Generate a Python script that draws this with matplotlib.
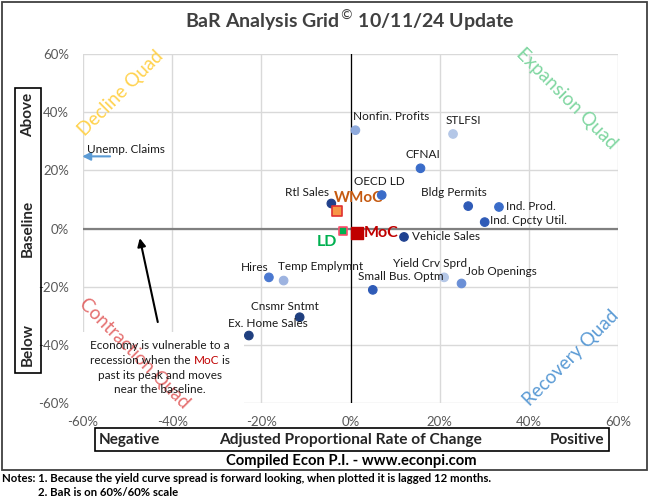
import matplotlib
matplotlib.use("Agg")
import matplotlib.pyplot as plt
from matplotlib.patches import Rectangle

plt.rcParams['font.family'] = ['Lato', 'DejaVu Sans']

# ---- data (percent) ----
names = ["Nonfin. Profits", "STLFSI", "CFNAI", "OECD LD", "Bldg Permits", "Ind. Prod.",
         "Ind. Cpcty Util.", "Vehicle Sales", "Yield Crv Sprd", "Job Openings",
         "Small Bus. Optm", "Rtl Sales", "Hires", "Temp Emplymnt", "Cnsmr Sntmt",
         "Ex. Home Sales"]
xs = [1.1, 23.0, 15.7, 7.0, 26.4, 33.3, 30.1, 12.0, 21.0, 24.9, 5.0, -4.3, -18.3, -15.0, -11.4, -22.8]
ys = [33.8, 32.5, 20.7, 11.5, 7.7, 7.4, 2.2, -2.9, -16.8, -18.9, -21.1, 8.6, -16.8, -17.9, -30.5, -36.8]
colors = ["#8faadc", "#b4c7e7", "#3a6cc9", "#3a6cc9", "#2f5bb7", "#3a6cc9", "#2f5bb7", "#1f4190",
          "#b4c7e7", "#6a8fd6", "#2f5bb7", "#203f8a", "#4a78d0", "#9db3e0", "#1f3f7f", "#1f3f7f"]
# label offsets in points (dx, dy) and horizontal alignment
label_pos = [(-2, 6, 'left'), (-5, 6, 'left'), (2, 6, 'center'), (-20, 6, 'left'),
             (-34, 6, 'left'), (5, 0, 'left'), (4, 1, 'left'), (6, 0, 'left'),
             (-37, 6, 'left'), (3, 5, 'left'), (-11, 6, 'left'), (-33, 4, 'left'),
             (-20, 3, 'left'), (-4, 6, 'left'), (-35, 4, 'left'), (-15, 5, 'left')]

summary_names = ["MoC", "WMoC", "LD"]
summary_x = [1.5, -3.0, -1.7]
summary_y = [-1.5, 6.0, -0.9]

unemp_y = 24.8
xticks = [-60, -40, -20, 0, 20, 40, 60]
yticks = [-60, -40, -20, 0, 20, 40, 60]

W, H = 650, 501
fig = plt.figure(figsize=(6.5, 5.01), dpi=100)

def fx(px):
    return px / W

def fy(py):
    return 1 - py / H

ax = fig.add_axes([fx(83), fy(403), fx(618) - fx(83), fy(54) - fy(403)])
ax.set_xlim(-60, 60)
ax.set_ylim(-60, 60)
ax.set_xticks(xticks)
ax.set_yticks(yticks)
ax.set_xticklabels([f"{t}%" for t in xticks])
ax.set_yticklabels([f"{t}%" for t in yticks])
ax.tick_params(length=0, labelsize=9.5, colors="#595959")
ax.tick_params(axis='x', pad=9)
ax.tick_params(axis='y', pad=10)
for s in ax.spines.values():
    s.set_visible(False)
ax.grid(True, color="#d9d9d9", lw=1)
ax.set_axisbelow(True)
ax.axhline(0, color="#808080", lw=1.6, zorder=1.5)
ax.axvline(0, color="#000000", lw=0.9, zorder=1.5)

# points
ax.scatter(xs, ys, s=38, c=colors, edgecolors=colors, linewidths=0.8, zorder=3)
for n, x, y, (dx, dy, ha) in zip(names, xs, ys, label_pos):
    ax.annotate(n, (x, y), xytext=(dx, dy), textcoords='offset points', ha=ha,
                va='bottom' if dy > 2 else 'center', fontsize=8.5, color="#1a1a1a", zorder=4)

# summary markers
ax.scatter([summary_x[0]], [summary_y[0]], marker='s', s=75, c="#c00000", edgecolors="#c00000", zorder=5)
ax.scatter([summary_x[1]], [summary_y[1]], marker='s', s=55, c="#f79646", edgecolors="#e03030", linewidths=1.2, zorder=5)
ax.scatter([summary_x[2]], [summary_y[2]], marker='s', s=30, c="#00b050", edgecolors="#ff4d6d", linewidths=1.2, zorder=5)
ax.annotate(summary_names[0], (summary_x[0], summary_y[0]), xytext=(5, 0), textcoords='offset points',
            ha='left', va='center', fontsize=11.5, fontweight='bold', color="#c00000", zorder=6)
ax.annotate(summary_names[1], (summary_x[1], summary_y[1]), xytext=(-2, 4), textcoords='offset points',
            ha='left', va='bottom', fontsize=11, fontweight='bold', color="#c55a11", zorder=2.5)
ax.annotate(summary_names[2], (summary_x[2], summary_y[2]), xytext=(-4, -3), textcoords='offset points',
            ha='right', va='top', fontsize=11.5, fontweight='bold', color="#00b050", zorder=6)

# Unemployment claims off-chart arrow
ax.annotate("", xy=(-60.8, unemp_y), xytext=(-53.3, unemp_y),
            arrowprops=dict(arrowstyle='-|>', color="#5b9bd5", lw=1.5, mutation_scale=12),
            annotation_clip=False, zorder=5)
ax.text(-59.0, unemp_y + 0.6, "Unemp. Claims", fontsize=8.5, color="#1a1a1a", ha='left', va='bottom', zorder=5)

# quadrant labels
ax.text(-51.5, 46.5, "Decline Quad", rotation=45, fontsize=13.5, color="#ffd24d",
        ha='center', va='center', zorder=2)
ax.text(48.5, 44.5, "Expansion Quad", rotation=-45, fontsize=13.5, color="#7fd6a0",
        ha='center', va='center', zorder=2)
ax.text(49.5, -44.5, "Recovery Quad", rotation=45, fontsize=13.5, color="#5b9bd5",
        ha='center', va='center', zorder=2)

# text box
ax.add_patch(Rectangle((-60, -60), 36.2, 24.5, facecolor='white', edgecolor='none', zorder=3.5))
ax.text(-48.5, -43.0, "Contraction Quad", rotation=-45, fontsize=13.5, color="#e05555",
        ha='center', va='center', zorder=4, alpha=0.85)
ax.text(-42.7, -40.3, "Economy is vulnerable to a", fontsize=8.5, ha='center', va='center', color="#1a1a1a", zorder=6)
t1 = ax.text(-42.7, -45.5, "recession when the MoC is", fontsize=8.5, ha='center', va='center', color="none", zorder=6)
ax.text(-42.7, -50.7, "past its peak and moves", fontsize=8.5, ha='center', va='center', color="#1a1a1a", zorder=6)
ax.text(-42.7, -55.5, "near the baseline.", fontsize=8.5, ha='center', va='center', color="#1a1a1a", zorder=6)

ax.annotate("", xy=(-47.4, -2.4), xytext=(-43.1, -33.1),
            arrowprops=dict(arrowstyle='-|>', color="black", lw=1.5, mutation_scale=12), zorder=6)

# Frame, title and outside labels
fig.patches.append(Rectangle((fx(2), fy(470)), fx(647) - fx(2), fy(2) - fy(470), transform=fig.transFigure,
                             facecolor='none', edgecolor='#404040', lw=1.3))
fig.text(fx(350), fy(20), "BaR Analysis Grid$^{©}$ 10/11/24 Update", ha='center', va='center',
         fontsize=14, fontweight='bold', color="#404040")

fig.patches.append(Rectangle((fx(15), fy(373)), fx(41) - fx(15), fy(88) - fy(373), transform=fig.transFigure,
                             facecolor='none', edgecolor='black', lw=1.2))
for txt, yy in [("Above", 115), ("Baseline", 228), ("Below", 345)]:
    fig.text(fx(28), fy(yy), txt, rotation=90, ha='center', va='center', fontsize=11,
             fontweight='bold', color="#262626")

fig.patches.append(Rectangle((fx(95), fy(451)), fx(609) - fx(95), fy(428) - fy(451), transform=fig.transFigure,
                             facecolor='none', edgecolor='black', lw=1.2))
fig.text(fx(99), fy(440), "Negative", ha='left', va='center', fontsize=11, fontweight='bold', color="#262626")
fig.text(fx(351), fy(440), "Adjusted Proportional Rate of Change", ha='center', va='center', fontsize=11.2,
         fontweight='bold', color="#262626")
fig.text(fx(604), fy(440), "Positive", ha='right', va='center', fontsize=11, fontweight='bold', color="#262626")
fig.text(fx(351), fy(461), "Compiled Econ P.I. - www.econpi.com", ha='center', va='center', fontsize=10.6,
         fontweight='bold', color="#000000")
fig.text(fx(2), fy(478), "Notes: 1. Because the yield curve spread is forward looking, when plotted it is lagged 12 months.",
         ha='left', va='center', fontsize=8.2, fontweight='bold', color="#000000")
fig.text(fx(38), fy(493), "2. BaR is on 60%/60% scale", ha='left', va='center', fontsize=8.2,
         fontweight='bold', color="#000000")

fig.canvas.draw()
# colored "MoC" inside the sentence
r = fig.canvas.get_renderer()
bb = t1.get_window_extent(r)
inv = ax.transData.inverted()
left_data = inv.transform((bb.x0, 0))[0]
t1.remove()
seg1 = ax.text(left_data, -45.5, "recession when the ", fontsize=8.5, ha='left', va='center', color="#1a1a1a", zorder=6)
fig.canvas.draw()
b1 = seg1.get_window_extent(r)
x2 = inv.transform((b1.x1, 0))[0]
seg2 = ax.text(x2, -45.5, "MoC", fontsize=8.5, ha='left', va='center', color="#c00000", zorder=6)
fig.canvas.draw()
b2 = seg2.get_window_extent(r)
x3 = inv.transform((b2.x1, 0))[0]
ax.text(x3, -45.5, " is", fontsize=8.5, ha='left', va='center', color="#1a1a1a", zorder=6)

fig.savefig("out.png", dpi=100)
